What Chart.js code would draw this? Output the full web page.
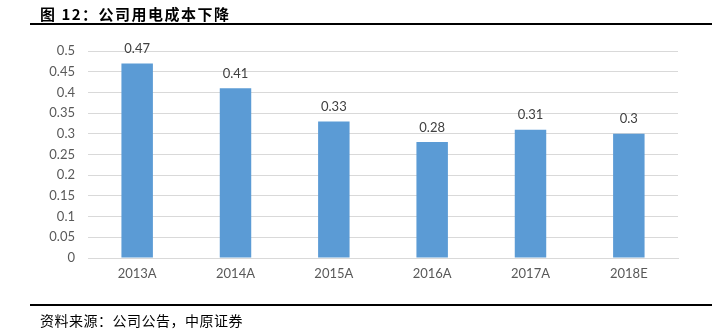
<!DOCTYPE html>
<html>
<head>
<meta charset="utf-8">
<script src="https://cdn.jsdelivr.net/npm/chart.js@4/dist/chart.umd.min.js"></script>
<style>
  html, body { margin: 0; padding: 0; background: #fff; }
  #wrap { position: relative; width: 712px; height: 334px; overflow: hidden; }
  #c { position: absolute; left: 0; top: 0; }
  #title { position: absolute; left: 40px; top: 3px; font: bold 15px "Noto Sans CJK SC", sans-serif; color: #000; white-space: nowrap; letter-spacing: 1.5px; }
  #topline { position: absolute; left: 30px; top: 23px; width: 682px; height: 2px; background: #000; }
  #botline { position: absolute; left: 30px; top: 304px; width: 682px; height: 2px; background: #000; }
  #source { position: absolute; left: 40px; top: 310px; font: 14px "Noto Sans CJK SC", sans-serif; color: #000; white-space: nowrap; letter-spacing: 0.5px; }
</style>
</head>
<body>
<div id="wrap">
  <canvas id="c" width="712" height="334"></canvas>
  <div id="title">图 12：公司用电成本下降</div>
  <div id="topline"></div>
  <div id="botline"></div>
  <div id="source">资料来源：公司公告，中原证券</div>
</div>
<script>
const categories = ['2013A', '2014A', '2015A', '2016A', '2017A', '2018E'];
const costValues = [0.47, 0.41, 0.33, 0.28, 0.31, 0.3];
const yTicks = [0, 0.05, 0.1, 0.15, 0.2, 0.25, 0.3, 0.35, 0.4, 0.45, 0.5];

const valueLabels = {
  id: 'valueLabels',
  afterDatasetsDraw(chart) {
    const ctx = chart.ctx;
    ctx.save();
    ctx.font = '13px Lato, sans-serif';
    ctx.fillStyle = '#404040';
    ctx.textAlign = 'center';
    ctx.textBaseline = 'bottom';
    chart.data.datasets.forEach((ds, i) => {
      chart.getDatasetMeta(i).data.forEach((bar, j) => {
        ctx.fillText(String(ds.data[j]), bar.x, bar.y - 8);
      });
    });
    ctx.restore();
  }
};

new Chart(document.getElementById('c'), {
  type: 'bar',
  data: {
    labels: categories,
    datasets: [{
      data: costValues,
      backgroundColor: '#5b9bd5',
      borderWidth: 0,
      barPercentage: 0.32,
      categoryPercentage: 1
    }]
  },
  options: {
    responsive: false,
    animation: false,
    layout: { padding: { top: 51, right: 34, bottom: 0, left: 0 } },
    plugins: { legend: { display: false }, tooltip: { enabled: false } },
    scales: {
      x: {
        grid: { display: false, drawTicks: false },
        border: { display: true, color: '#d9d9d9' },
        ticks: { color: '#595959', font: { family: 'Lato', size: 13 }, padding: 8 },
        afterFit(scale) { scale.height = 76; }
      },
      y: {
        min: 0,
        max: 0.5,
        afterBuildTicks(scale) { scale.ticks = yTicks.map(v => ({ value: v })); },
        grid: { color: '#d9d9d9', drawTicks: false },
        border: { display: false },
        ticks: { color: '#595959', font: { family: 'Lato', size: 13 }, padding: 13,
                 callback: v => String(v) },
        afterFit(scale) { scale.width = 88; }
      }
    }
  },
  plugins: [valueLabels]
});
</script>
</body>
</html>
